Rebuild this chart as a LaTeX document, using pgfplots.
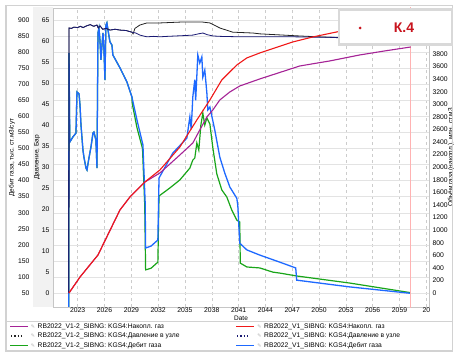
\documentclass[border=0pt]{standalone}
\usepackage{fontspec}
\setmainfont{Liberation Sans}
\newfontfamily\symfont{DejaVu Sans}
\usepackage{pgfplots}
\pgfplotsset{compat=1.18}

\definecolor{cumVa}{RGB}{165,35,150}   % V1-2 cumulative
\definecolor{cumVb}{RGB}{240,25,25}    % V1 cumulative
\definecolor{prsVa}{RGB}{35,35,35}     % V1-2 pressure
\definecolor{prsVb}{RGB}{25,25,115}    % V1 pressure
\definecolor{rateVa}{RGB}{25,165,25}   % V1-2 gas rate
\definecolor{rateVb}{RGB}{30,105,255}  % V1 gas rate
\definecolor{tagred}{RGB}{200,20,30}

\newcommand{\legfont}{\fontsize{6.7}{7.5}\selectfont}
\newcommand{\pin}{{\symfont\color{gray!60}\fontsize{5}{5}\selectfont ✎}}

\pgfplotsset{
  chartbase/.style={
    scale only axis, width=376pt, height=299pt,
    at={(53pt,-307pt)}, anchor=south west,
    xmin=2020.24, xmax=2062.3,
    xtick={2023,2026,...,2062},
    major tick length=0pt,
    /pgf/number format/assume math mode=true,
    /pgf/number format/1000 sep={},
    tick label style={font=\fontsize{6.8}{7.5}\selectfont},
    xticklabel style={inner sep=1pt},
    label style={font=\fontsize{6.5}{7}\selectfont},
  },
}

\pgfplotstableread{
year rate
2022.00 0
2022.03 797
2022.12 520
2022.47 536
2022.81 548
2022.92 676
2023.15 670
2023.26 635
2023.37 573
2023.59 495
2023.70 473
2023.93 439
2024.04 433
2024.26 470
2024.49 505
2024.71 548
2024.82 551
2025.04 526
2025.16 439
2025.27 860
2025.38 875
2025.49 838
2025.60 776
2025.72 822
2025.83 860
2025.94 807
2026.05 713
2026.16 884
2026.27 891
2026.39 869
2026.61 832
2026.83 822
2026.94 791
2027.73 751
2028.51 707
2029.07 660
2029.63 589
2030.30 511
2030.55 330
2030.60 190
2031.20 196
2031.97 215
2032.10 408
2033.65 486
2035.21 532
2035.55 598
2035.70 560
2035.88 661
2036.10 714
2036.20 650
2036.44 791
2036.66 766
2036.89 785
2037.00 722
2037.22 744
2037.45 673
2037.56 620
2037.79 629
2038.34 557
2038.90 473
2039.46 423
2040.02 380
2040.80 345
2040.91 323
2041.13 205
2041.93 184
2043.38 168
2045.61 146
2047.39 128
2047.50 90
2053.42 69
2060.25 49
}\rateVb

\pgfplotstableread{
year rate
2022.00 0
2022.03 797
2022.12 520
2022.47 536
2022.81 548
2022.92 676
2023.15 670
2023.26 635
2023.37 573
2023.59 495
2023.70 473
2023.93 439
2024.04 433
2024.26 470
2024.49 505
2024.71 548
2024.82 551
2025.04 526
2025.16 439
2025.27 860
2025.38 875
2025.49 838
2025.60 776
2025.72 822
2025.83 860
2025.94 807
2026.05 713
2026.16 884
2026.27 891
2026.39 869
2026.61 832
2026.83 822
2026.94 791
2027.73 751
2028.51 707
2029.07 660
2029.10 640
2029.63 565
2030.25 500
2030.50 324
2030.60 122
2031.20 127
2031.97 146
2032.10 352
2033.31 377
2034.43 402
2035.55 439
2035.88 464
2036.10 470
2036.33 517
2036.55 495
2036.78 573
2037.00 610
2037.22 573
2037.45 595
2037.79 576
2038.12 502
2038.56 421
2039.12 371
2039.68 349
2040.24 308
2040.80 277
2041.13 271
2041.19 143
2041.93 131
2043.38 128
2044.83 115
2045.61 112
2047.50 103
2053.42 81
2060.25 51
}\rateVa

\pgfplotstableread{
year p
2022.00 0
2022.04 63.1
2022.30 63.0
2022.60 63.3
2023.00 63.2
2023.30 63.5
2023.60 63.2
2024.00 63.6
2024.40 63.9
2024.80 63.5
2025.16 63.8
2025.30 63.1
2025.50 63.6
2025.80 62.8
2026.20 63.0
2026.61 62.6
2027.20 62.8
2027.73 62.6
2028.40 62.5
2029.07 62.1
2029.50 61.9
2029.96 61.4
2030.74 61.0
2031.50 61.1
2032.20 61.0
2033.00 61.1
2034.00 61.2
2035.00 61.3
2035.88 61.4
2036.50 61.7
2037.00 61.9
2037.50 61.5
2038.12 61.2
2039.00 61.1
2041.13 61.0
2043.40 61.0
2047.00 61.0
2050.00 60.9
2054.00 60.8
2060.25 60.7
}\prsVb

\pgfplotstableread{
year p
2022.00 0
2022.04 63.1
2022.30 63.0
2022.60 63.3
2023.00 63.2
2023.30 63.5
2023.60 63.2
2024.00 63.6
2024.40 63.9
2024.80 63.5
2025.16 63.8
2025.30 63.1
2025.50 63.6
2025.80 62.8
2026.20 63.0
2026.61 62.6
2027.20 62.8
2027.73 62.6
2028.40 62.5
2029.07 62.1
2029.20 61.7
2029.40 63.0
2029.96 63.8
2030.74 64.3
2032.20 64.3
2034.43 64.5
2037.00 64.5
2037.79 64.3
2038.90 63.1
2040.35 62.1
2042.60 61.9
2043.40 61.7
2047.80 61.2
2052.00 60.8
2060.25 60.7
}\prsVa

\pgfplotstableread{
year v
2022.03 0
2023.26 254
2025.27 604
2027.73 1320
2028.84 1526
2030.52 1765
2032.20 1956
2034.43 2321
2036.33 2751
2037.79 3069
2039.12 3387
2040.80 3625
2041.92 3737
2043.37 3816
2047.05 3991
2049.28 4070
2051.97 4150
2054.54 4214
2057.33 4261
2060.25 4309
}\cumVb

\pgfplotstableread{
year v
2022.03 0
2023.26 254
2025.27 604
2027.73 1320
2028.84 1526
2030.52 1765
2032.20 1908
2034.43 2194
2035.88 2385
2036.66 2592
2037.45 2798
2038.12 2910
2038.90 3069
2040.02 3196
2041.13 3291
2043.37 3403
2047.84 3609
2051.19 3689
2054.54 3784
2057.33 3848
2060.25 3911
}\cumVa

\begin{document}
\begin{tikzpicture}[x=1pt,y=1pt]
\path[use as bounding box] (0,-352) rectangle (454,0);
\fill[white] (0,-352) rectangle (454,0);
% shaded strip behind the pressure scale
\fill[gray!10] (33,-7) rectangle (53,-307);

% gas rate scale, grid and rate curves
\begin{axis}[chartbase,
  ymin=6.41, ymax=937.36,
  ytick={50,100,...,900},
  axis line style={draw=none},
  xticklabels={},
  ymajorgrids, xmajorgrids,
  y grid style={gray!22, line width=0.4pt},
  x grid style={gray!40, dashed, line width=0.4pt},
  yticklabel style={xshift=-20pt},
  ylabel={Дебит газа, тыс. ст.м3/сут},
  ylabel style={at={(axis description cs:-0.109,0.5)}, anchor=center},
]
\addplot[rateVa, line width=1.2pt] table[x=year, y=rate] {\rateVa};
\addplot[rateVb, line width=1.3pt] table[x=year, y=rate] {\rateVb};
\end{axis}

% pressure scale, frame, date axis and pressure curves
\begin{axis}[chartbase,
  ymin=-3.333, ymax=67.857,
  ytick={0,5,...,65},
  axis line style={gray!45},
  xticklabels={2023,2026,2029,2032,2035,2038,2041,2044,2047,2050,2053,2056,2059,20},
  xlabel={Date},
  xlabel style={at={(axis description cs:0.5,-0.0368)}, anchor=center},
  ylabel={Давление, Бар},
  ylabel style={at={(axis description cs:-0.0426,0.5)}, anchor=center},
]
\addplot[red!30, line width=1.4pt] coordinates {(2060.25,-10) (2060.25,80)};
\addplot[prsVa, line width=0.8pt] table[x=year, y=p] {\prsVa};
\addplot[prsVb, line width=0.8pt] table[x=year, y=p] {\prsVb};
\end{axis}

% cumulative gas scale and curves
\begin{axis}[chartbase,
  ymin=-222.6, ymax=4531,
  ytick={0,200,...,4400},
  axis x line=none, axis y line*=right,
  axis line style={draw=none},
  ylabel={Объём газа (накопл.), млн. ст.м3},
  ylabel style={at={(axis description cs:1.0585,0.5)}, anchor=center},
]
\addplot[cumVa, line width=1.1pt] table[x=year, y=v] {\cumVa};
\addplot[cumVb, line width=1.1pt] table[x=year, y=v] {\cumVb};
\end{axis}

% frames
\draw[gray!35, line width=1pt] (6,-321.8) rectangle (452.5,-350);
\draw[gray!35, line width=1.2pt] (6,-5.5) rectangle (452.5,-351);

% legend: two columns of three series keys
\begin{scope}[every node/.style={font=\legfont, inner sep=0pt, text height=5pt, text depth=1.5pt}]
  \draw[cumVa, line width=1.3pt] (10,-326.5) -- (28,-326.5);
  \node at (33,-326.5) {\pin};
  \node[anchor=west] at (37.5,-326.5) {RB2022\_V1-2\_SIBNG: KGS4:Накопл. газ};
  \draw[prsVa, line width=1.3pt, dotted] (11,-336) -- (24,-336);
  \node at (33,-336) {\pin};
  \node[anchor=west] at (37.5,-336) {RB2022\_V1-2\_SIBNG: KGS4:Давление в узле};
  \draw[rateVa, line width=1.3pt] (10,-345.3) -- (28,-345.3);
  \node at (33,-345.3) {\pin};
  \node[anchor=west] at (37.5,-345.3) {RB2022\_V1-2\_SIBNG: KGS4:Дебит газа};

  \draw[cumVb, line width=1.3pt] (236,-326.5) -- (254,-326.5);
  \node at (259.5,-326.5) {\pin};
  \node[anchor=west] at (264,-326.5) {RB2022\_V1\_SIBNG: KGS4:Накопл. газ};
  \draw[prsVb, line width=1.3pt, dotted] (237,-336) -- (250,-336);
  \node at (259.5,-336) {\pin};
  \node[anchor=west] at (264,-336) {RB2022\_V1\_SIBNG: KGS4:Давление в узле};
  \draw[rateVb, line width=1.3pt] (236,-345.3) -- (254,-345.3);
  \node at (259.5,-345.3) {\pin};
  \node[anchor=west] at (264,-345.3) {RB2022\_V1\_SIBNG: KGS4:Дебит газа};
\end{scope}

% well tag
\draw[gray!30, line width=2.7pt, fill=white] (339,-9.5) rectangle (452,-44.5);
\fill[tagred] (360,-28) circle (1.5);
\node[tagred, font=\bfseries\fontsize{14}{14}\selectfont] at (404,-28) {К.4};
\end{tikzpicture}
\end{document}
